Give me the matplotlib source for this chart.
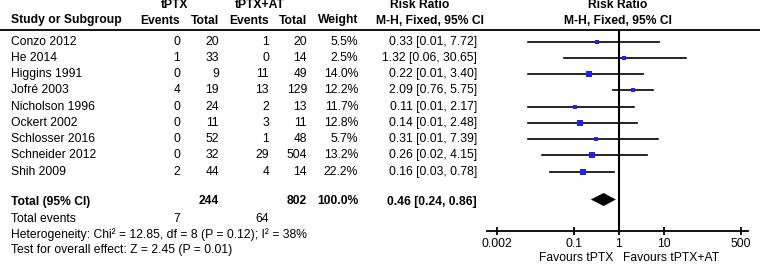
import matplotlib.pyplot as plt
import numpy as np

plt.rcParams["font.family"] = ["Liberation Sans", "DejaVu Sans"]
plt.rcParams["font.size"] = 8.7

studies = ["Conzo 2012", "He 2014", "Higgins 1991", "Jofré 2003", "Nicholson 1996",
           "Ockert 2002", "Schlosser 2016", "Schneider 2012", "Shih 2009"]
ev_ptx = [0, 1, 0, 4, 0, 0, 0, 0, 2]
tot_ptx = [20, 33, 9, 19, 24, 11, 52, 32, 44]
ev_at = [1, 0, 11, 13, 2, 3, 1, 29, 4]
tot_at = [20, 14, 49, 129, 13, 11, 48, 504, 14]
weights = [5.5, 2.5, 14.0, 12.2, 11.7, 12.8, 5.7, 13.2, 22.2]
rr = [0.33, 1.32, 0.22, 2.09, 0.11, 0.14, 0.31, 0.26, 0.16]
lo = [0.01, 0.06, 0.01, 0.76, 0.01, 0.01, 0.01, 0.02, 0.03]
hi = [7.72, 30.65, 3.40, 5.75, 2.17, 2.48, 7.39, 4.15, 0.78]

total_rr, total_lo, total_hi = 0.46, 0.24, 0.86
total_n = [244, 802]
total_events = [7, 64]
tick_vals = [0.002, 0.1, 1, 10, 500]
tick_labels = ["0.002", "0.1", "1", "10", "500"]

W, H = 760, 264
fig = plt.figure(figsize=(W / 100, H / 100), dpi=100)
bg = fig.add_axes([0, 0, 1, 1])
bg.set_xlim(0, W)
bg.set_ylim(H, 0)
bg.axis("off")

# column anchors (pixel coords)
x_study, x_ev1, x_tot1, x_ev2, x_tot2, x_w, x_rr = 11, 180, 219, 269, 307, 358, 477
row_y = 41.7 + 16.25 * np.arange(len(studies))
y_total = 201.5

# headers
bg.text(175, 5.5, "tPTX", ha="center", va="center", fontweight="bold")
bg.text(260, 5.5, "tPTX+AT", ha="center", va="center", fontweight="bold")
bg.text(420, 5.5, "Risk Ratio", ha="center", va="center", fontweight="bold")
bg.text(618, 5.5, "Risk Ratio", ha="center", va="center", fontweight="bold")
hy = 20.5
bg.text(x_study, hy, "Study or Subgroup", ha="left", va="center", fontweight="bold")
for x, s in [(x_ev1, "Events"), (x_tot1, "Total"), (x_ev2, "Events"),
             (x_tot2, "Total"), (x_w, "Weight")]:
    bg.text(x, hy, s, ha="right", va="center", fontweight="bold")
bg.text(430, hy, "M-H, Fixed, 95% CI", ha="center", va="center", fontweight="bold")
bg.text(618, hy, "M-H, Fixed, 95% CI", ha="center", va="center", fontweight="bold")
bg.plot([0, W], [30, 30], color="black", lw=1.3)

# study rows
for i, y in enumerate(row_y):
    bg.text(x_study, y, studies[i], ha="left", va="center")
    bg.text(x_ev1, y, str(ev_ptx[i]), ha="right", va="center")
    bg.text(x_tot1, y, str(tot_ptx[i]), ha="right", va="center")
    bg.text(x_ev2, y, str(ev_at[i]), ha="right", va="center")
    bg.text(x_tot2, y, str(tot_at[i]), ha="right", va="center")
    bg.text(x_w, y, f"{weights[i]:.1f}%", ha="right", va="center")
    bg.text(x_rr, y, f"{rr[i]:.2f} [{lo[i]:.2f}, {hi[i]:.2f}]", ha="right", va="center")

# totals
bg.text(x_study, y_total, "Total (95% CI)", ha="left", va="center", fontweight="bold")
bg.text(x_tot1, y_total, str(total_n[0]), ha="right", va="center", fontweight="bold")
bg.text(x_tot2, y_total, str(total_n[1]), ha="right", va="center", fontweight="bold")
bg.text(x_w, y_total, "100.0%", ha="right", va="center", fontweight="bold")
bg.text(x_rr, y_total, f"{total_rr:.2f} [{total_lo:.2f}, {total_hi:.2f}]",
        ha="right", va="center", fontweight="bold")
bg.text(x_study, 219, "Total events", ha="left", va="center")
bg.text(x_ev1, 219, str(total_events[0]), ha="right", va="center")
bg.text(x_ev2, 219, str(total_events[1]), ha="right", va="center")
bg.text(x_study, 234.5, "Heterogeneity: Chi² = 12.85, df = 8 (P = 0.12); I² = 38%",
        ha="left", va="center")
bg.text(x_study, 250, "Test for overall effect: Z = 2.45 (P = 0.01)", ha="left", va="center")
bg.text(613, 258, "Favours tPTX", ha="right", va="center")
bg.text(623, 258, "Favours tPTX+AT", ha="left", va="center")

# forest panel
left_px, right_px, top_px, bot_px = 487, 748, 30, 231
ax = fig.add_axes([left_px / W, (H - bot_px) / H, (right_px - left_px) / W, (bot_px - top_px) / H])
ax.set_xscale("log")
ax.set_xlim(10 ** -2.915, 10 ** 2.855)
ax.set_ylim(bot_px, top_px)
ax.patch.set_alpha(0)
for s in ["left", "right", "top"]:
    ax.spines[s].set_visible(False)
ax.spines["bottom"].set_linewidth(1.3)
ax.set_yticks([])
ax.set_xticks(tick_vals)
ax.set_xticklabels(tick_labels)
ax.minorticks_off()
ax.tick_params(axis="x", direction="inout", length=6, width=1.3, pad=2, labelsize=8.7)

ax.axvline(1, color="black", lw=1.5)
for i, y in enumerate(row_y):
    ax.plot([lo[i], hi[i]], [y, y], color="black", lw=1.2, clip_on=False)
    side_px = 1.5 + np.sqrt(weights[i])
    ax.plot(rr[i], y, marker="s", ms=side_px * 0.72, color="#1f1fff", mew=0, clip_on=False)

dh = 6.5
ax.fill([total_lo, total_rr, total_hi, total_rr],
        [y_total - 2, y_total - 2 - dh, y_total - 2, y_total - 2 + dh], color="black", lw=0)

fig.savefig("out.png", dpi=100)
